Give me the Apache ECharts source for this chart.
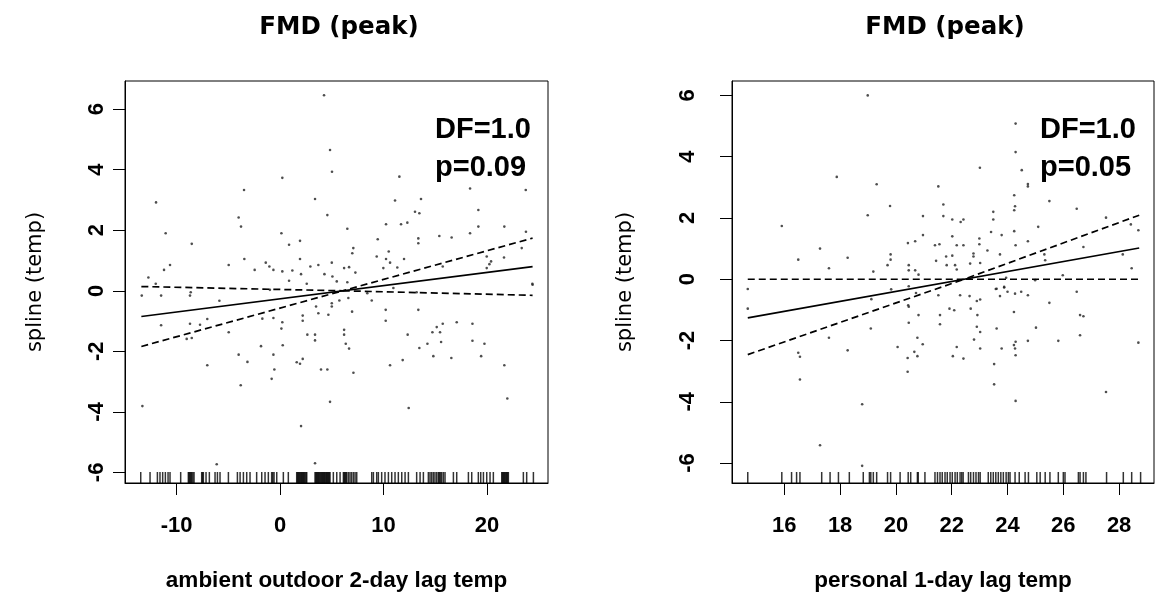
<!DOCTYPE html>
<html><head><meta charset="utf-8">
<script src="https://cdn.jsdelivr.net/npm/echarts@6/dist/echarts.min.js"></script>
<style>html,body{margin:0;padding:0;background:#fff}#c{width:1155px;height:605px}</style>
</head><body><div id="c"></div>
<script>
// ---------- DATA ----------
const titles = ['FMD (peak)', 'FMD (peak)'];
const xNames = ['ambient outdoor 2-day lag temp', 'personal 1-day lag temp'];
const yName = 'spline (temp)';
const statsLeft = ['DF=1.0', 'p=0.09'];
const statsRight = ['DF=1.0', 'p=0.05'];

const leftXTicks = [-10, 0, 10, 20];
const rightXTicks = [16, 18, 20, 22, 24, 26, 28];
const yTicks = [-6, -4, -2, 0, 2, 4, 6];

// fitted spline (linear, DF=1) and pointwise bands
const leftFit = [[-13.4, -0.85], [24.4, 0.8]];
const leftUpper = [[-13.4, 0.14], [6.05, 0], [24.4, 1.74]];
const leftLower = [[-13.4, -1.84], [6.05, 0], [24.4, -0.15]];
const rightFit = [[14.69, -1.26], [28.72, 1.02]];
const rightUpper = [[14.69, 0], [22.44, 0], [28.72, 2.09]];
const rightLower = [[14.69, -2.46], [22.44, 0], [28.72, 0]];

// partial residuals
const leftPoints = [
[4.25,6.46],[4.83,4.65],[5.02,3.93],[0.22,3.73],[-3.48,3.33],[11.53,3.77],[18.36,3.38],[23.74,3.33],[-11.98,2.92],[3.38,3.03],
[11.11,2.98],[13.62,3.03],[4.57,2.5],[13.04,2.61],[13.46,2.56],[19.16,2.67],[-4.0,2.42],[-3.77,2.12],[-11.05,1.9],[0.13,1.9],
[6.5,2.05],[10.24,2.2],[11.69,2.2],[12.3,2.25],[19.16,2.12],[21.67,2.12],[18.36,1.9],[23.76,1.95],[-8.53,1.55],[0.87,1.52],
[1.93,1.65],[9.44,1.7],[13.36,1.73],[13.36,1.57],[15.39,1.81],[16.58,1.76],[7.08,1.41],[6.98,1.24],[9.34,1.13],[10.5,1.3],
[10.24,1.05],[11.98,1.05],[10.63,0.93],[23.35,1.41],[19.97,1.13],[20.39,0.97],[20.23,0.88],[19.97,0.75],[21.64,1.1],[15.72,0.8],
[-3.45,1.05],[1.93,1.05],[5.0,0.93],[3.7,0.85],[2.93,0.8],[-10.63,0.85],[-11.21,0.69],[-4.96,0.85],[-2.45,0.69],[-1.38,0.93],
[-1.03,0.8],[-0.64,0.69],[0.22,0.64],[1.19,0.67],[2.03,0.55],[4.29,0.55],[5.06,0.47],[6.19,0.75],[6.67,0.78],[7.28,0.6],
[9.98,0.75],[11.33,0.77],[-12.72,0.44],[-12.01,0.23],[0.87,0.33],[2.58,0.23],[5.48,0.31],[6.5,0.28],[24.38,0.23],[10.95,0.09],
[-13.36,-0.16],[-11.49,-0.16],[-8.7,-0.16],[-8.63,-0.05],[-5.86,-0.33],[-0.98,0.03],[8.43,-0.08],[13.2,-0.05],[3.48,-0.52],[3.7,-0.74],
[4.67,-0.79],[5.0,-0.41],[5.0,-0.52],[5.73,-0.32],[6.6,-0.24],[6.96,-0.69],[8.86,-0.32],[10.21,-0.63],[10.21,-0.99],[13.36,-0.63],
[2.19,-0.82],[2.19,-0.99],[0.22,-1.04],[0.13,-1.25],[-11.49,-1.14],[-8.7,-1.09],[-7.73,-1.12],[-7.03,-0.93],[-9.02,-1.59],[-8.53,-1.56],
[-4.96,-1.37],[-1.71,-0.92],[-0.64,-0.9],[2.64,-1.45],[3.38,-1.45],[3.38,-1.64],[6.19,-1.29],[6.19,-1.45],[6.35,-1.75],[6.67,-1.91],
[14.72,-1.37],[15.14,-1.2],[15.46,-1.37],[15.72,-1.09],[15.56,-1.69],[14.24,-1.75],[13.46,-1.89],[12.33,-1.45],[17.07,-1.04],[18.59,-1.09],
[18.59,-1.65],[19.75,-1.75],[19.43,-2.16],[16.55,-2.22],[14.81,-2.16],[11.85,-2.29],[10.63,-2.46],[7.09,-2.71],[4.57,-2.6],[3.96,-2.6],
[1.61,-2.36],[1.93,-2.41],[2.19,-2.25],[0.26,-1.8],[-0.64,-2.11],[-1.84,-1.83],[-4.0,-2.11],[-3.15,-2.35],[-0.55,-2.6],[-0.81,-2.91],
[-7.03,-2.46],[-3.8,-3.12],[-13.3,-3.81],[4.83,-3.67],[12.43,-3.87],[21.96,-3.56],[21.67,-2.46],[2.03,-4.47],[-6.12,-5.73],[3.38,-5.7],
[24.4,0.2]
];
const rightPoints = [
[18.99,6.0],[24.29,5.08],[24.29,4.15],[23.01,3.64],[24.51,3.56],[17.88,3.34],[19.31,3.1],[21.52,3.03],[24.73,3.11],[24.73,3.03],
[19.79,2.39],[21.7,2.44],[24.24,2.74],[24.27,2.38],[24.24,2.25],[25.5,2.55],[26.48,2.3],[15.91,1.74],[18.99,2.09],[20.97,2.06],
[21.7,2.06],[22.02,1.95],[22.32,1.87],[22.42,1.95],[23.49,2.2],[23.49,1.95],[24.24,1.57],[25.1,1.71],[27.53,2.01],[28.42,1.79],
[28.69,1.6],[20.97,1.44],[20.69,1.24],[20.43,1.18],[21.4,1.11],[21.56,1.14],[22.02,1.4],[22.18,1.11],[22.42,1.11],[22.99,1.33],
[22.99,1.14],[23.41,1.54],[23.79,1.44],[24.29,1.11],[24.73,1.24],[23.28,0.94],[23.73,0.81],[25.32,0.81],[26.72,1.05],[28.13,0.81],
[16.5,0.64],[17.28,1.0],[18.27,0.7],[17.6,0.36],[19.19,0.25],[19.81,0.81],[19.81,0.64],[19.7,0.46],[20.46,0.46],[20.46,0.29],
[20.69,0.29],[20.81,0.15],[21.44,0.6],[21.8,0.74],[22.02,0.77],[22.12,0.46],[21.82,0.46],[22.18,0.32],[22.66,0.51],[22.78,0.84],
[22.78,0.74],[23.02,0.53],[23.95,0.05],[24.99,-0.03],[25.98,0.13],[28.45,0.36],[25.35,0.62],[14.69,-0.32],[23.58,-0.32],[23.88,-0.25],
[14.69,-0.96],[19.12,-0.65],[19.83,-0.33],[20.46,-0.23],[20.72,-0.45],[20.44,-0.85],[20.46,-0.9],[20.81,-1.17],[21.52,-0.52],[21.58,-1.17],
[21.58,-1.47],[20.46,-1.42],[19.1,-1.61],[17.6,-1.91],[18.27,-2.32],[16.5,-2.4],[16.56,-2.53],[16.56,-3.27],[20.06,-2.21],[20.42,-2.57],
[20.66,-2.37],[20.77,-1.91],[20.77,-2.51],[20.96,-2.12],[20.42,-3.02],[21.92,-0.96],[22.09,-1.01],[22.3,-0.52],[22.64,-0.55],[22.68,-0.96],
[22.92,-1.17],[22.9,-1.55],[23.02,-1.72],[22.9,-0.71],[23.02,-0.66],[23.61,-0.31],[23.73,-0.55],[23.88,-0.27],[24.0,-0.41],[24.27,-0.47],
[24.49,-0.41],[24.73,-0.52],[24.23,-1.07],[23.61,-1.61],[22.8,-1.97],[23.02,-2.26],[22.18,-2.21],[22.04,-2.51],[22.42,-2.59],[23.79,-2.26],
[24.23,-2.15],[24.29,-2.04],[24.27,-2.26],[24.29,-2.48],[24.73,-2.01],[25.02,-1.58],[25.5,-0.77],[25.82,-2.01],[26.48,-0.41],[26.6,-1.17],
[26.72,-1.21],[26.6,-1.83],[28.69,-2.07],[23.52,-2.77],[23.52,-3.43],[24.29,-3.97],[27.53,-3.68],[18.79,-4.08],[17.28,-5.42],[18.79,-6.09]
];

// rug (observed exposure values)
const leftRug = [-13.46,-12.56,-11.85,-11.6,-11.34,-11.08,-10.82,-10.63,-9.6,-8.86,-8.78,-8.7,-8.62,-8.53,-8.42,-8.31,
-7.57,-7.49,-7.41,-7.15,-6.83,-6.28,-6.05,-5.8,-4.99,-4.12,-3.86,-3.54,-3.22,-2.9,-2.26,-1.77,-1.45,-1.13,-0.81,-0.7,-0.58,-0.32,0.32,0.8,
1.61,1.69,1.77,1.85,1.93,2.01,2.09,2.17,2.25,2.33,2.41,2.5,2.58,3.38,3.46,3.54,3.62,3.7,3.78,3.86,3.94,4.03,4.11,4.19,4.27,4.35,4.43,4.51,4.59,4.67,4.75,4.83,
5.15,5.48,5.8,6.12,6.2,6.28,6.36,6.44,6.6,6.76,6.92,7.09,7.25,7.41,
8.86,9.02,9.34,9.5,9.82,10.14,10.47,10.79,11.11,11.43,11.76,12.08,12.4,
13.2,13.53,13.85,14.33,14.49,14.65,14.81,14.97,15.14,15.3,15.39,15.5,15.62,15.78,15.94,16.75,17.07,18.2,18.52,19.16,19.39,19.65,
19.97,20.29,20.61,21.42,21.5,21.58,21.66,21.74,21.82,21.9,21.98,22.06,23.51,23.83,24.48];
const rightRug = [14.69,15.91,16.26,16.44,16.56,17.34,17.64,17.94,18.33,18.83,19.05,19.1,19.19,19.31,19.7,19.81,
20.15,20.44,20.53,20.77,20.8,21.04,21.4,21.49,21.58,21.66,21.76,21.84,21.94,22.02,22.12,22.2,22.3,22.36,22.41,
22.6,22.68,22.78,22.87,22.96,23.02,23.31,23.4,23.49,23.58,23.67,23.76,23.85,23.95,24.03,24.09,
24.27,24.42,24.63,24.75,25.05,25.17,25.35,25.52,25.82,26.0,26.06,26.54,26.6,26.72,26.81,27.55,28.15,28.45,28.77];

// axis ranges (R style: data range + 4%)
const leftXRange = [-14.98, 25.89], rightXRange = [14.125, 29.25];
const leftYRange = [-6.35, 6.93], rightYRange = [-6.65, 6.47];

// ---------- CHART ----------
const tickFont = {fontFamily:'Liberation Sans, Arial, sans-serif', fontWeight:'bold', fontSize:22, color:'#000'};
const xNameFont = {fontFamily:'Liberation Sans, Arial, sans-serif', fontWeight:'bold', fontSize:22.5, color:'#000'};
const yNameFont = {fontFamily:'DejaVu Sans, sans-serif', fontWeight:'normal', fontSize:21, color:'#000'};
const blackLine = {show:true, onZero:false, lineStyle:{color:'#000', width:1}};

function xAxisDef(i, range, ticks, name){
  return {gridIndex:i, type:'value', min:range[0], max:range[1],
    name:name, nameLocation:'middle', nameGap:86, nameTextStyle:xNameFont,
    axisLine:blackLine,
    axisTick:{show:true, length:12, customValues:ticks, lineStyle:{color:'#000', width:1}},
    axisLabel:{customValues:ticks, margin:32, ...tickFont},
    splitLine:{show:false}};
}
function yAxisDef(i, range, margin, gap){
  return {gridIndex:i, type:'value', min:range[0], max:range[1],
    name:yName, nameLocation:'middle', nameGap:gap, nameTextStyle:yNameFont,
    axisLine:blackLine,
    axisTick:{show:true, length:12, customValues:yTicks, lineStyle:{color:'#000', width:1}},
    axisLabel:{customValues:yTicks, rotate:90, margin:margin, ...tickFont},
    splitLine:{show:false}};
}
function pts(i, data){
  return {type:'scatter', xAxisIndex:i, yAxisIndex:i, data:data, symbol:'circle', symbolSize:2.6,
    itemStyle:{color:'#222'}, silent:true, z:2};
}
function rug(i, xs, ymin){
  return {type:'scatter', xAxisIndex:i, yAxisIndex:i, data:xs.map(x=>[x, ymin]), symbol:'rect',
    symbolSize:[1.5, 11], symbolOffset:[0, -5.5], itemStyle:{color:'#000'}, silent:true, z:2};
}
function line(i, data, dashed){
  return {type:'line', xAxisIndex:i, yAxisIndex:i, data:data, showSymbol:false, symbol:'none', silent:true, z:3,
    lineStyle:{color:'#000', width:1.7, type: dashed ? [7,4] : 'solid'}};
}

const statText = (x, y, t) => ({type:'text', x:x, y:y, silent:true,
  style:{text:t, fontFamily:'Liberation Sans, Arial, sans-serif', fontWeight:'bold', fontSize:29, fill:'#000',
         align:'left', verticalAlign:'middle'}});

const titleFont = {fontFamily:'DejaVu Sans, sans-serif', fontWeight:'bold', fontSize:24.5, color:'#000'};
const chart = echarts.init(document.getElementById('c'), null, {renderer:'canvas'});
chart.setOption({
  animation:false,
  backgroundColor:'#fff',
  title:[
    {text:titles[0], left:334, top:10, textAlign:'center', textStyle:titleFont},
    {text:titles[1], left:940, top:10, textAlign:'center', textStyle:titleFont}
  ],
  grid:[
    {left:125, top:81, width:423, height:402, show:true, borderColor:'#000', borderWidth:1},
    {left:732, top:81, width:422, height:402, show:true, borderColor:'#000', borderWidth:1}
  ],
  xAxis:[ xAxisDef(0, leftXRange, leftXTicks, xNames[0]), xAxisDef(1, rightXRange, rightXTicks, xNames[1]) ],
  yAxis:[ yAxisDef(0, leftYRange, 17, 79), yAxisDef(1, rightYRange, 33, 96) ],
  series:[
    pts(0, leftPoints), rug(0, leftRug, leftYRange[0]),
    line(0, leftFit, false), line(0, leftUpper, true), line(0, leftLower, true),
    pts(1, rightPoints), rug(1, rightRug, rightYRange[0]),
    line(1, rightFit, false), line(1, rightUpper, true), line(1, rightLower, true)
  ],
  graphic:[
    statText(435, 130, statsLeft[0]), statText(435, 168, statsLeft[1]),
    statText(1040, 130, statsRight[0]), statText(1040, 168, statsRight[1])
  ]
});
</script></body></html>
